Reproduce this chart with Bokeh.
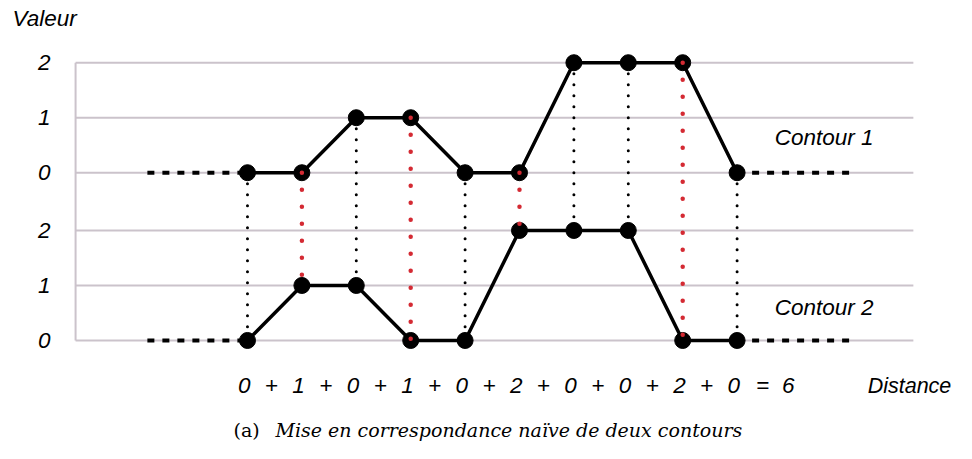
from bokeh.plotting import figure
from bokeh.models import Range1d
from bokeh.core.properties import value
from bokeh.embed import file_html
from bokeh.resources import INLINE

# ---- data ----
INDEX = [0, 1, 2, 3, 4, 5, 6, 7, 8, 9]
CONTOUR_1 = [0, 0, 1, 1, 0, 0, 2, 2, 2, 0]
CONTOUR_2 = [0, 1, 1, 0, 0, 2, 2, 2, 0, 0]
LEVELS = [0, 1, 2]
LEVEL_LABELS = ["0", "1", "2"]
SERIES_NAMES = ["Contour 1", "Contour 2"]
Y_TITLE = "Valeur"
X_TITLE = "Distance"
CAPTION_TAG = "(a)"
CAPTION = "Mise en correspondance naïve de deux contours"

# ---- layout constants ----
OFFSET = 3.05          # vertical offset of contour 1 band
AXIS_X = -3.16
GRID_END = 12.24
EXT_LEFT = -1.84
EXT_RIGHT = 11.07
SANS = value("Liberation Sans")
SERIF = value("DejaVu Serif")
FS = "22.5px"
GRID_COLOR = "#cbc3cb"
RED = "#d42a33"

p = figure(width=956, height=443, x_range=Range1d(-4.54, 13.033),
           y_range=Range1d(-1.873, 6.181), x_axis_type=None, y_axis_type=None,
           output_backend="svg", toolbar_location=None, min_border=0,
           outline_line_color=None, background_fill_color="white",
           border_fill_color="white")

c1 = [v + OFFSET for v in CONTOUR_1]
c2 = list(CONTOUR_2)

# grid lines and axis line
grid_y = LEVELS + [l + OFFSET for l in LEVELS]
p.segment(x0=[AXIS_X] * len(grid_y), x1=[GRID_END] * len(grid_y), y0=grid_y, y1=grid_y,
          line_color=GRID_COLOR, line_width=2)
p.segment(x0=[AXIS_X], x1=[AXIS_X], y0=[min(LEVELS)], y1=[max(LEVELS) + OFFSET],
          line_color=GRID_COLOR, line_width=2)

# tick labels
p.text(x=[AXIS_X - 0.46] * len(grid_y), y=grid_y, text=LEVEL_LABELS + LEVEL_LABELS,
       text_font=SANS, text_font_style="italic", text_font_size=FS,
       text_align="right", text_baseline="middle", text_color="black")

# connectors
diffs = [abs(a - b) for a, b in zip(CONTOUR_1, CONTOUR_2)]
same = [i for i, d in enumerate(diffs) if d == 0]
diff = [i for i, d in enumerate(diffs) if d != 0]
p.segment(x0=[INDEX[i] for i in same], x1=[INDEX[i] for i in same],
          y0=[c1[i] for i in same], y1=[c2[i] for i in same],
          line_color="black", line_width=3, line_dash="0 11", line_cap="round")

# dashed extensions
for ys in (c1, c2):
    p.segment(x0=[EXT_LEFT, INDEX[-1]], x1=[INDEX[0], EXT_RIGHT], y0=[ys[0], ys[-1]],
              y1=[ys[0], ys[-1]], line_color="black", line_width=4, line_dash="7 8")

# contours
for ys in (c1, c2):
    p.line(INDEX, ys, line_color="black", line_width=3.5)
    p.scatter(INDEX, ys, size=16, fill_color="black", line_color="black")

p.segment(x0=[INDEX[i] for i in diff], x1=[INDEX[i] for i in diff],
          y0=[c1[i] for i in diff], y1=[c2[i] for i in diff],
          line_color=RED, line_width=4.5, line_dash="0 17", line_cap="round")

# texts
p.text(x=[-4.32], y=[5.86], text=[Y_TITLE], text_font=SANS, text_font_style="italic",
       text_font_size=FS, text_align="left", text_baseline="middle")
p.text(x=[9.69, 9.69], y=[3.69, 0.6], text=SERIES_NAMES, text_font=SANS,
       text_font_style="italic", text_font_size=FS, text_align="left", text_baseline="middle")
p.text(x=[11.4], y=[-0.82], text=[X_TITLE], text_font=SANS, text_font_style="italic",
       text_font_size="21.5px", text_align="left", text_baseline="middle")

# distance row
tok_x, tok_t = [], []
for i, d in zip(INDEX, diffs):
    tok_x.append(i - 0.06)
    tok_t.append(str(d))
    if i < INDEX[-1]:
        tok_x.append(i + 0.5 - 0.06)
        tok_t.append("+")
tok_x += [INDEX[-1] + 0.47, INDEX[-1] + 0.94]
tok_t += ["=", str(sum(diffs))]
p.text(x=tok_x, y=[-0.82] * len(tok_x), text=tok_t, text_font=SANS,
       text_font_style="italic", text_font_size=FS, text_align="center",
       text_baseline="middle")

# caption
p.text(x=[-0.257], y=[-1.62], text=[CAPTION_TAG], text_font=SERIF,
       text_font_size="19px", text_align="left", text_baseline="alphabetic")
p.text(x=[0.515], y=[-1.62], text=[CAPTION], text_font=SERIF, text_font_style="italic",
       text_font_size="19px", text_align="left", text_baseline="alphabetic")

open("out.html", "w").write(file_html(p, INLINE))
